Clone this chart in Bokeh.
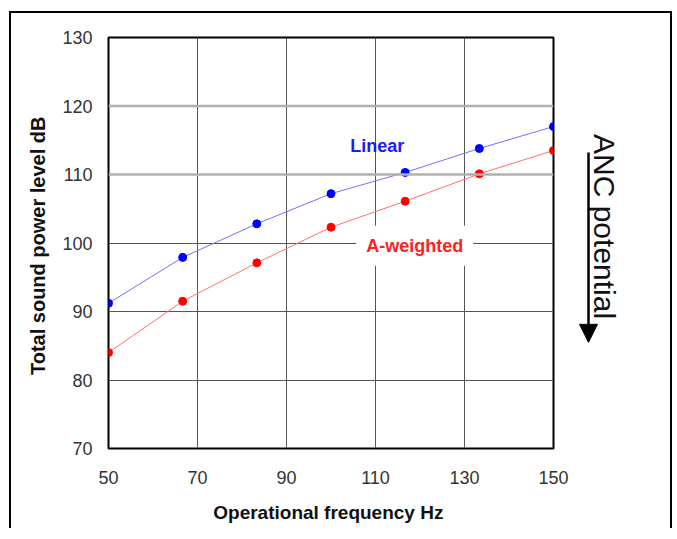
from bokeh.plotting import figure
from bokeh.layouts import row
from bokeh.models import FixedTicker, Label, Arrow, NormalHead, Span
from bokeh.embed import file_html
from bokeh.resources import INLINE

freq = [50, 66.67, 83.33, 100, 116.67, 133.33, 150]
linear = [91.2, 97.9, 102.8, 107.2, 110.3, 113.8, 117.0]
a_weighted = [84.0, 91.5, 97.1, 102.3, 106.1, 110.1, 113.5]
x_ticks = [50, 70, 90, 110, 130, 150]
y_ticks = [70, 80, 90, 100, 110, 120, 130]

p = figure(width=564, height=515, output_backend="svg", toolbar_location=None,
           x_range=(50, 150), y_range=(70, 130),
           min_border_left=97, min_border_right=22, min_border_top=24, min_border_bottom=80)

p.outline_line_color = "black"
p.outline_line_width = 2
p.outline_line_alpha = 1.0

for ax in (p.xaxis[0], p.yaxis[0]):
    ax.axis_line_color = None
    ax.major_tick_line_color = None
    ax.minor_tick_line_color = None
    ax.major_tick_out = 0
    ax.major_tick_in = 0
    ax.minor_tick_out = 0
    ax.major_label_text_font = "Liberation Sans"
    ax.major_label_text_font_size = "18px"
    ax.major_label_text_color = "#333333"
    ax.axis_label_text_font = "Liberation Sans"
    ax.axis_label_text_font_style = "bold"
    ax.axis_label_text_color = "#111111"
p.xaxis.axis_label_text_font_size = "19px"
p.yaxis.axis_label_text_font_size = "20px"

p.xaxis.ticker = FixedTicker(ticks=x_ticks)
p.yaxis.ticker = FixedTicker(ticks=y_ticks)
p.xaxis.axis_label = "Operational frequency  Hz"
p.yaxis.axis_label = "Total sound power level  dB"
p.xaxis.major_label_standoff = 22
p.xaxis.axis_label_standoff = 15
p.yaxis.major_label_standoff = 16
p.yaxis.axis_label_standoff = 10

p.xgrid.ticker = FixedTicker(ticks=[70, 90, 110, 130])
p.xgrid.grid_line_color = "#555555"
p.xgrid.grid_line_width = 1
p.ygrid.ticker = FixedTicker(ticks=[80, 90, 100])
p.ygrid.grid_line_color = "#555555"
p.ygrid.grid_line_width = 1
for yv in (110, 120):
    p.add_layout(Span(location=yv, dimension="width", line_color="#b0b0b0", line_width=2.5))

p.line(freq, linear, line_color="#7070ff", line_width=1)
p.scatter(freq, linear, size=8, color="#0000ff")
p.line(freq, a_weighted, line_color="#ff7070", line_width=1)
p.scatter(freq, a_weighted, size=8, color="#ff0000")

p.add_layout(Label(x=110.4, y=114.2, text="Linear", text_color="#1a1aff",
                   text_font="Liberation Sans", text_font_size="18px", text_font_style="bold",
                   text_align="center", text_baseline="middle"))
p.add_layout(Label(x=118.8, y=99.6, text="A-weighted", text_color="#ff2020",
                   text_font="Liberation Sans", text_font_size="18px", text_font_style="bold",
                   text_align="center", text_baseline="middle",
                   background_fill_color="white", padding=10))

# side panel holding the "ANC potential" annotation
s = figure(width=95, height=515, output_backend="svg", toolbar_location=None,
           x_range=(0, 95), y_range=(70, 130), x_axis_type=None, y_axis_type=None,
           min_border_left=0, min_border_right=0, min_border_top=24, min_border_bottom=80)
s.outline_line_color = None
s.grid.visible = False
s.add_layout(Label(x=29, y=102.4, text="ANC potential", angle=-1.5708,
                   text_color="#111111", text_font="Liberation Sans", text_font_size="30px",
                   text_align="center", text_baseline="middle"))
s.add_layout(Arrow(x_start=13, y_start=113.2, x_end=13, y_end=85.5,
                   line_color="black", line_width=2.5,
                   end=NormalHead(size=18, fill_color="black", line_color="black")))

layout = row(p, s)
layout.styles = {"border-top": "2px solid black", "border-left": "2px solid black",
                 "border-right": "2px solid black", "margin-left": "9px", "margin-top": "11px"}

open("out.html", "w").write(file_html(layout, INLINE))
